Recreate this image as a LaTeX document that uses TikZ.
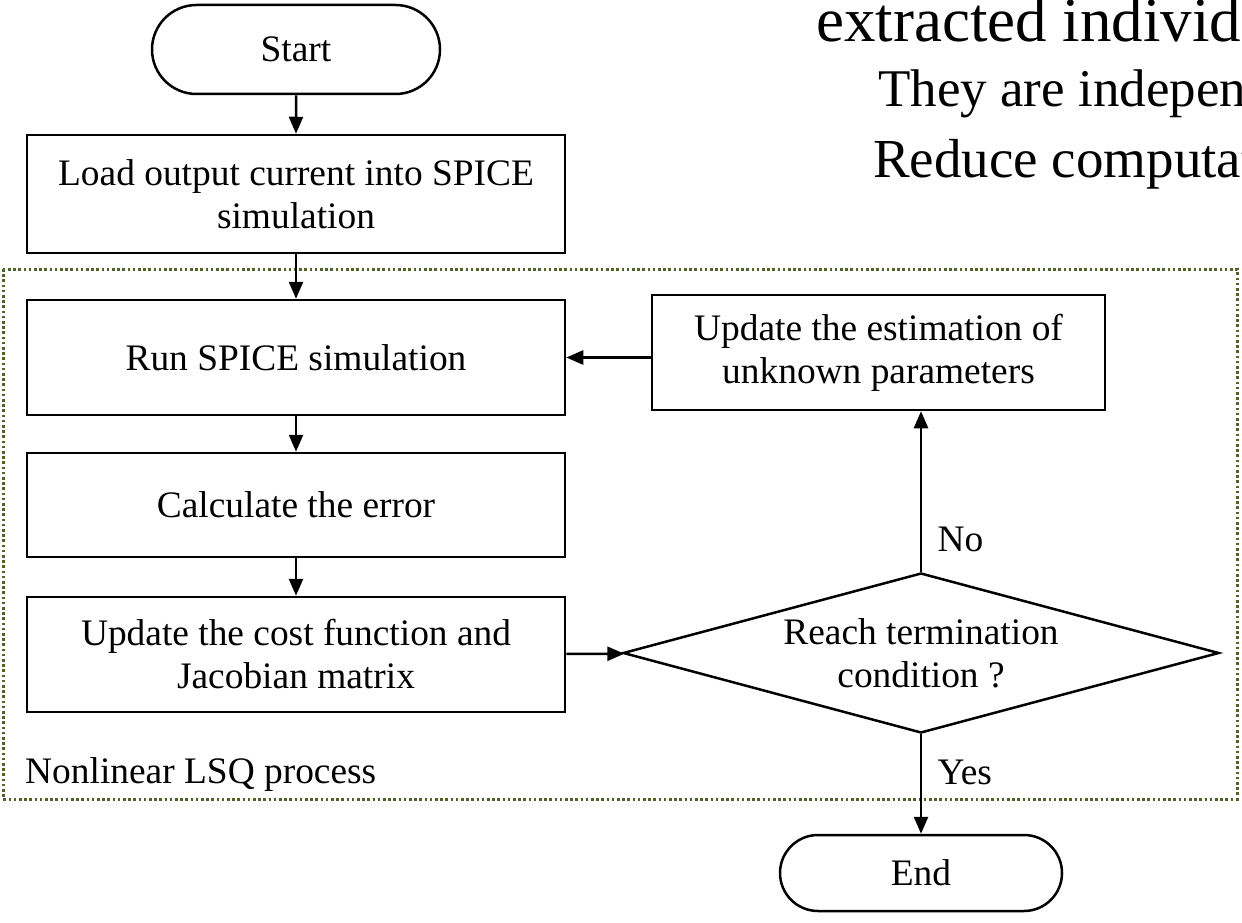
\documentclass[tikz,border=0pt]{standalone}
\usepackage{fontspec}
\setmainfont{Liberation Serif}
\usetikzlibrary{arrows.meta,shapes.geometric,shapes.misc}
\definecolor{frameolive}{RGB}{79,98,40}
\begin{document}
\begin{tikzpicture}[x=1pt,y=-1pt,
  every node/.style={font=\fontsize{37.4}{43}\selectfont},
  proc/.style={draw,line width=2.5pt,rectangle,minimum width=538pt,minimum height=115pt,align=center,inner sep=0pt},
  term/.style={draw,line width=2.5pt,rounded rectangle,minimum width=288pt,minimum height=89pt,inner sep=0pt},
  decision/.style={draw,line width=2.5pt,diamond,aspect=3.7,minimum width=596pt,minimum height=160pt,align=center,inner sep=0pt},
  flow/.style={line width=2.5pt,-{Triangle[length=17pt,width=14pt]}},
  group/.style={draw=frameolive,line width=3pt,dash pattern=on 2.6pt off 2.6pt},
  slide/.style={anchor=base west,inner sep=0pt},
]
\useasboundingbox (0,0) rectangle (1242,923);

% overlapping slide text in the upper right corner
\begin{scope}
\clip (0,0) rectangle (1242,923);
\node[slide,font=\fontsize{63}{70}\selectfont] (t1) at (816,42) {extracted individ};
\node[slide,font=\fontsize{53}{60}\selectfont] (t2) at (878,107) {They are indepen};
\node[slide,font=\fontsize{55}{60}\selectfont] (t3) at (873,177) {Reduce computat};
\end{scope}

% dotted frame of the iterative fitting loop
\draw[group] (3,269) rectangle (1237,799);
\node[anchor=base west,inner sep=0pt] (lsq) at (25,783) {Nonlinear LSQ process};

% flow chart nodes
\node[term] (start) at (296,49.5) {Start};
\node[proc,minimum height=118pt] (load) at (296,194) {Load output current into SPICE\\simulation};
\node[proc] (run) at (296,357.5) {Run SPICE simulation};
\node[proc,minimum height=104pt] (err) at (296,505) {Calculate the error};
\node[proc] (cost) at (296,654.5) {Update the cost function and\\Jacobian matrix};
\node[proc,minimum width=453pt] (upd) at (878.5,352.5) {Update the estimation of\\unknown parameters};
\node[decision] (dec) at (921,653) {Reach termination\\condition ?};
\node[term,minimum width=282pt,minimum height=76pt] (end) at (921,873) {End};

% connectors
\draw[flow] (start) -- (load);
\draw[flow] (load) -- (run);
\draw[flow] (run) -- (err);
\draw[flow] (err) -- (cost);
\draw[flow] (cost) -- (dec);
\draw[flow] (upd.west|-run) -- (run.east);
\draw[flow] (dec.north) -- node[right=12pt,pos=0.2] {No} (dec.north|-upd.south);
\draw[flow] (dec.south) -- node[right=12pt,pos=0.38] {Yes} (end.north);
\end{tikzpicture}
\end{document}
